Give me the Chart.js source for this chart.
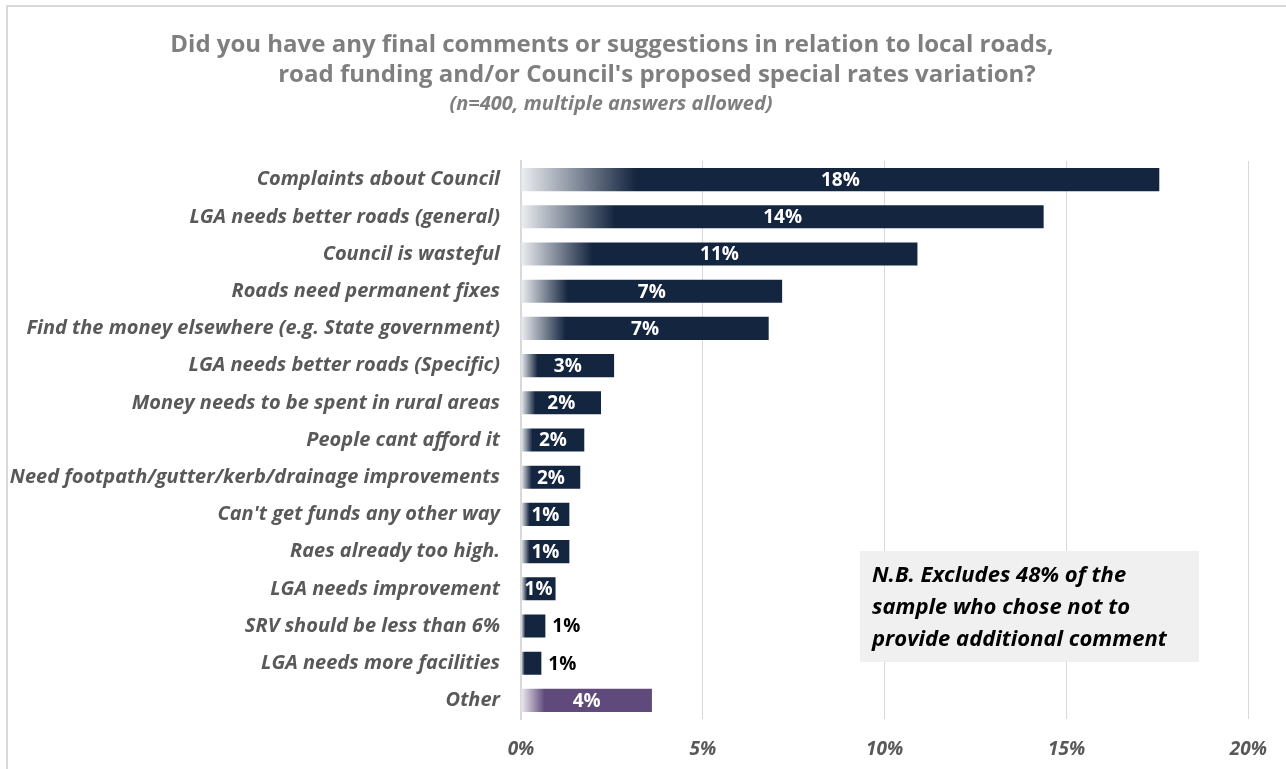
<!DOCTYPE html>
<html>
<head>
<meta charset="utf-8">
<script src="https://cdn.jsdelivr.net/npm/chart.js@4.4.1/dist/chart.umd.min.js"></script>
<style>
  html, body { margin: 0; padding: 0; background: #fff; overflow: hidden; }
  #wrap { position: relative; width: 1286px; height: 769px; }
  #frame { position: absolute; left: 6px; top: 5px; width: 1400px; height: 900px; border: 2px solid #d9d9d9; }
  canvas { position: absolute; left: 0; top: 0; }
</style>
</head>
<body>
<div id="wrap">
  <div id="frame"></div>
  <canvas id="chart" width="1286" height="769"></canvas>
</div>
<script>
// -----------------------------
// DATA
// -----------------------------
const categories = [
    "Complaints about Council",
    "LGA needs better roads (general)",
    "Council is wasteful",
    "Roads need permanent fixes",
    "Find the money elsewhere (e.g. State government)",
    "LGA needs better roads (Specific)",
    "Money needs to be spent in rural areas",
    "People cant afford it",
    "Need footpath/gutter/kerb/drainage improvements",
    "Can't get funds any other way",
    "Raes already too high.",
    "LGA needs improvement",
    "SRV should be less than 6%",
    "LGA needs more facilities",
    "Other"
];
const percentages = [17.55, 14.37, 10.9, 7.18, 6.81, 2.56, 2.2, 1.74, 1.63, 1.33, 1.33, 0.95, 0.67, 0.56, 3.6];
const xTicks = [0, 5, 10, 15, 20];

const titleLines = [
    "Did you have any final comments or suggestions in relation to local roads,",
    "road funding and/or Council's proposed special rates variation?"
];
const subtitle = "(n=400, multiple answers allowed)";
const noteLines = [
    "N.B. Excludes 48% of the",
    "sample who chose not to",
    "provide additional comment"
];

const NAVY = '#14253f';
const PURPLE = '#604a7b';
const FONT = '"Open Sans", Lato, sans-serif';

// -----------------------------
// BAR FILL: light-to-solid gradient over first part of bar
// -----------------------------
function barFill(ctx) {
    const isOther = ctx.dataIndex === categories.length - 1;
    const solid = isOther ? PURPLE : NAVY;
    const chart = ctx.chart;
    const xs = chart.scales.x;
    if (!xs || !chart.chartArea || ctx.raw == null) return solid;
    const x0 = xs.getPixelForValue(0);
    const x1 = xs.getPixelForValue(ctx.raw);
    const g = chart.ctx.createLinearGradient(x0, 0, x0 + (x1 - x0) * 0.18, 0);
    g.addColorStop(0, isOther ? '#eeebf2' : '#eceef1');
    g.addColorStop(1, solid);
    return g;
}

// -----------------------------
// PLUGINS: title, value labels, note box
// -----------------------------
const titlePlugin = {
    id: 'titleText',
    afterDraw(chart) {
        const c = chart.ctx;
        c.save();
        c.fillStyle = '#7f7f7f';
        c.textAlign = 'center';
        c.textBaseline = 'middle';
        c.font = 'bold 24px ' + FONT;
        c.fillText(titleLines[0], 612, 45);
        c.fillText(titleLines[1], 657, 75);
        c.font = 'italic bold 20px ' + FONT;
        c.fillText(subtitle, 611, 104);
        c.restore();
    }
};

const valueLabels = {
    id: 'valueLabels',
    afterDatasetsDraw(chart) {
        const c = chart.ctx;
        const meta = chart.getDatasetMeta(0);
        c.save();
        c.font = 'bold 19px ' + FONT;
        c.textBaseline = 'middle';
        meta.data.forEach((bar, i) => {
            const txt = Math.round(percentages[i]) + '%';
            const w = bar.x - bar.base;
            if (w < 30) {
                c.fillStyle = '#000';
                c.textAlign = 'left';
                c.fillText(txt, bar.x + 7, bar.y + 1);
            } else {
                c.fillStyle = '#fff';
                c.textAlign = 'center';
                c.fillText(txt, (bar.x + bar.base) / 2, bar.y + 1);
            }
        });
        c.restore();
    }
};

const notePlugin = {
    id: 'noteBox',
    afterDraw(chart) {
        const c = chart.ctx;
        c.save();
        c.fillStyle = '#f0f0f0';
        c.fillRect(860, 551, 339, 111);
        c.fillStyle = '#000';
        c.font = 'italic bold 22px ' + FONT;
        c.textAlign = 'left';
        c.textBaseline = 'middle';
        noteLines.forEach((t, i) => c.fillText(t, 872, 576 + i * 32));
        c.restore();
    }
};

// -----------------------------
// RENDER
// -----------------------------
document.addEventListener("DOMContentLoaded", () => {
    new Chart(document.getElementById('chart'), {
        type: 'bar',
        data: {
            labels: categories,
            datasets: [{
                data: percentages,
                backgroundColor: barFill,
                borderWidth: 0,
                categoryPercentage: 1,
                barPercentage: 0.62
            }]
        },
        options: {
            indexAxis: 'y',
            responsive: false,
            animation: false,
            layout: { padding: { top: 161, right: 35, bottom: 0, left: 0 } },
            plugins: {
                legend: { display: false },
                tooltip: { enabled: false },
                title: { display: false }
            },
            scales: {
                x: {
                    min: 0,
                    max: 20,
                    afterBuildTicks: s => { s.ticks = xTicks.map(v => ({ value: v })); },
                    afterFit: s => { s.height = 50; },
                    grid: { color: '#d9d9d9', lineWidth: 1, drawTicks: false },
                    border: { display: false },
                    ticks: {
                        padding: 19,
                        color: '#595959',
                        font: { family: FONT, size: 19, style: 'italic', weight: 'bold' },
                        callback: v => v + '%'
                    }
                },
                y: {
                    afterFit: s => { s.width = 521; },
                    grid: { display: false, drawTicks: false },
                    border: { color: '#d9d9d9', width: 2 },
                    ticks: {
                        padding: 21,
                        color: '#595959',
                        font: { family: FONT, size: 20, style: 'italic', weight: 'bold' }
                    }
                }
            }
        },
        plugins: [titlePlugin, valueLabels, notePlugin]
    });
});
</script>
</body>
</html>
